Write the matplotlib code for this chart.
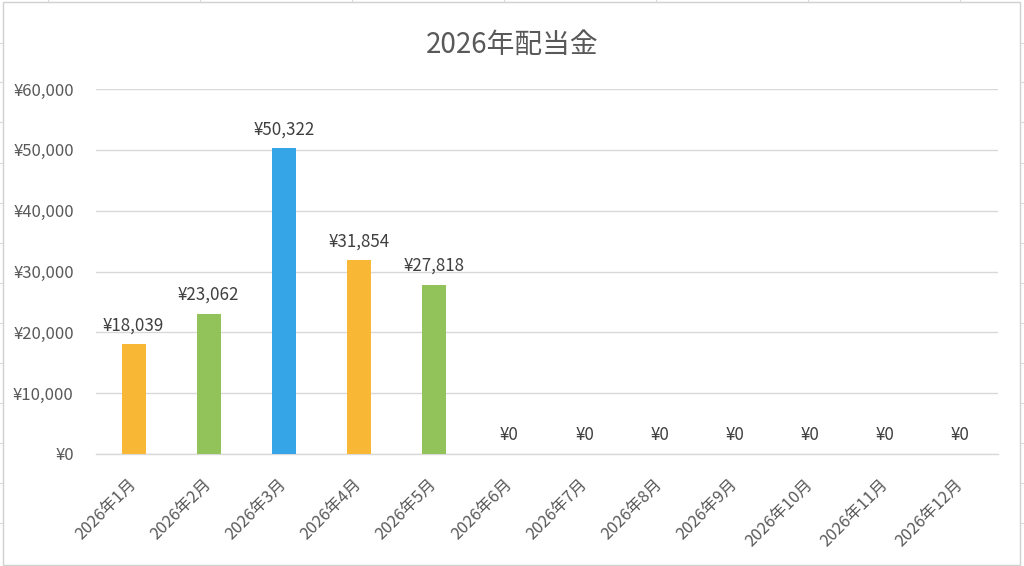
import matplotlib
matplotlib.use("Agg")
import matplotlib.pyplot as plt
from matplotlib.patches import Rectangle
from matplotlib.lines import Line2D

plt.rcParams['font.family'] = ['Noto Sans CJK JP', 'DejaVu Sans']

title = "2026年配当金"
months = ["2026年1月", "2026年2月", "2026年3月", "2026年4月", "2026年5月", "2026年6月",
          "2026年7月", "2026年8月", "2026年9月", "2026年10月", "2026年11月", "2026年12月"]
values = [18039, 23062, 50322, 31854, 27818, 0, 0, 0, 0, 0, 0, 0]
colors = ["#F8B836", "#92C25A", "#35A5E8", "#F8B836", "#92C25A",
          "#F8B836", "#92C25A", "#35A5E8", "#F8B836", "#92C25A", "#F8B836", "#92C25A"]
yticks = [0, 10000, 20000, 30000, 40000, 50000, 60000]

W, H = 1024, 566
fig = plt.figure(figsize=(W / 100, H / 100), dpi=100)
fig.patch.set_facecolor("white")

# faint spreadsheet cell lines outside chart frame
for xc in [48, 200, 352, 504, 656, 808, 960]:
    fig.add_artist(Line2D([xc / W, xc / W], [1, 1 - 2 / H], color="#d9d9d9", lw=0.8))
for yc in [43, 82, 122, 163, 203, 243, 283, 323, 363, 403, 443, 483, 523]:
    fig.add_artist(Line2D([0, 3 / W], [1 - yc / H, 1 - yc / H], color="#d9d9d9", lw=0.8))
    fig.add_artist(Line2D([1020 / W, 1], [1 - yc / H, 1 - yc / H], color="#d9d9d9", lw=0.8))

# chart frame
fig.add_artist(Rectangle((3 / W, 1 - 565 / H), (1020 - 3) / W, (565 - 2) / H,
                         transform=fig.transFigure, fill=False, edgecolor="#d0d0d0", lw=1.0))

ax = fig.add_axes([96 / W, 1 - 454 / H, (998 - 96) / W, (454 - 89) / H])
x = list(range(len(months)))
bars = ax.bar(x, values, width=0.32, color=colors, zorder=3)
ax.set_xlim(-0.5, len(months) - 0.5)
ax.set_ylim(0, 60000)
ax.set_yticks(yticks)
ax.set_yticklabels([f"¥{v:,}" for v in yticks], fontsize=12, color="#595959")
ax.set_xticks(x)
ax.set_xticklabels(months, rotation=45, ha="right", va="center", rotation_mode="anchor",
                   fontsize=11.8, color="#595959")
ax.tick_params(axis="both", length=0)
ax.tick_params(axis="y", pad=16)
ax.tick_params(axis="x", pad=20)
ax.grid(axis="y", color="#d9d9d9", lw=1.0, zorder=0)
for s in ["top", "right", "left"]:
    ax.spines[s].set_visible(False)
ax.spines["bottom"].set_color("#d9d9d9")
ax.spines["bottom"].set_linewidth(1.0)

for xi, v in zip(x, values):
    ax.annotate(f"¥{v:,}", (xi, v), xytext=(0, 7), textcoords="offset points",
                ha="center", va="bottom", fontsize=12.2, color="#404040")

fig.text(0.5, 1 - 45 / H, title, ha="center", va="center", fontsize=20, color="#595959")

fig.savefig("out.png", dpi=100)
